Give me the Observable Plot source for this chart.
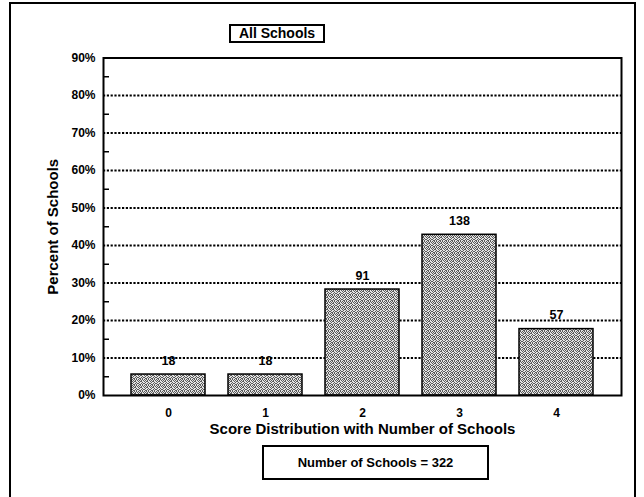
<!DOCTYPE html>
<html><head><meta charset="utf-8">
<script src="https://cdn.jsdelivr.net/npm/d3@7"></script>
<script src="https://cdn.jsdelivr.net/npm/@observablehq/plot@0.6"></script>
<style>
body{margin:0;background:#fff;font-family:"Liberation Sans",Arial,sans-serif;color:#000;}
#wrap{position:relative;width:644px;height:497px;overflow:hidden;background:#fff;}
#outer{position:absolute;left:9px;top:2px;width:623px;height:540px;border:2px solid #000;}
#title{position:absolute;left:229px;top:24px;width:92px;height:15px;border:2px solid #000;font-weight:bold;font-size:14px;line-height:15px;text-align:center;background:#fff;}
#chart{position:absolute;left:0;top:43px;}
#caption{position:absolute;left:262px;top:445px;width:223px;height:31px;border:2px solid #000;font-weight:bold;font-size:13px;line-height:31px;text-align:center;background:#fff;}
</style></head>
<body>
<div id="wrap"><div id="outer"></div><div id="title"></div><div id="chart"></div><div id="caption"></div></div>
<script>
// ---- data ----
const titleText = "All Schools";
const scores = ["0", "1", "2", "3", "4"];
const counts = [18, 18, 91, 138, 57];
const totalSchools = 322;
const yTicks = [0, 0.1, 0.2, 0.3, 0.4, 0.5, 0.6, 0.7, 0.8, 0.9];
const gridLines = [0.1, 0.2, 0.3, 0.4, 0.5, 0.6, 0.7, 0.8];
const minorTicks = [0.05, 0.15, 0.25, 0.35, 0.45, 0.55, 0.65, 0.75, 0.85];
const xLabel = "Score Distribution with Number of Schools";
const yLabel = "Percent of Schools";
const captionText = "Number of Schools = " + totalSchools;

const data = scores.map((s, i) => ({score: s, count: counts[i], pct: counts[i] / totalSchools}));

document.getElementById("title").textContent = titleText;
document.getElementById("caption").textContent = captionText;

const W = 644, H = 399, mL = 103, mR = 23, mT = 14.5, mB = 47;

// stipple texture (style only)
const grainRows = [
  "101010",
  "010101",
  "101100",
  "010010",
  "100101",
  "011010"
];
const defs = () => {
  const d = d3.create("svg:defs");
  const n = grainRows.length;
  const p = d.append("pattern").attr("id", "grain").attr("patternUnits", "userSpaceOnUse")
    .attr("width", n).attr("height", n);
  p.append("rect").attr("width", n).attr("height", n).attr("fill", "#e4e4e4");
  grainRows.forEach((row, y) => [...row].forEach((c, x) => {
    if (c === "1") p.append("rect").attr("x", x).attr("y", y).attr("width", 1).attr("height", 1)
      .attr("fill", "#5a5a5a").attr("shape-rendering", "crispEdges");
  }));
  return d.node();
};

const chart = Plot.plot({
  width: W, height: H,
  marginLeft: mL, marginRight: mR, marginTop: mT, marginBottom: mB,
  style: {fontFamily: "'Liberation Sans', Arial, sans-serif", color: "#000", background: "transparent"},
  x: {domain: scores, paddingInner: 0.24, paddingOuter: 0.28, label: null},
  y: {domain: [0, 0.9], label: null},
  marks: [
    defs,
    Plot.ruleY(gridLines, {stroke: "#000", strokeWidth: 2.2, strokeDasharray: "2.2,1.6"}),
    Plot.barY(data, {x: "score", y: "pct", fill: "url(#grain)", stroke: "#000", strokeWidth: 1.5}),
    Plot.text(data, {x: "score", y: "pct", text: d => String(d.count), dy: -14, fontSize: 12.5, fontWeight: "bold"}),
    Plot.tickY(minorTicks, {stroke: "#000", strokeWidth: 1.5, insetRight: W - mL - mR - 6}),
    Plot.axisY({ticks: yTicks, tickFormat: d3.format(".0%"), tickSize: 0, tickPadding: 8, fontSize: 12, fontWeight: "bold", label: null}),
    Plot.axisX({tickSize: 0, tickPadding: 13, fontSize: 12, fontWeight: "bold", label: null}),
    Plot.text([xLabel], {frameAnchor: "bottom", dy: 38, fontSize: 15, fontWeight: "bold"}),
    Plot.text([yLabel], {frameAnchor: "left", textAnchor: "middle", dx: -50, rotate: -90, fontSize: 15, fontWeight: "bold"}),
    Plot.frame({stroke: "#000", strokeWidth: 2})
  ]
});
document.getElementById("chart").appendChild(chart);
</script>
</body></html>
